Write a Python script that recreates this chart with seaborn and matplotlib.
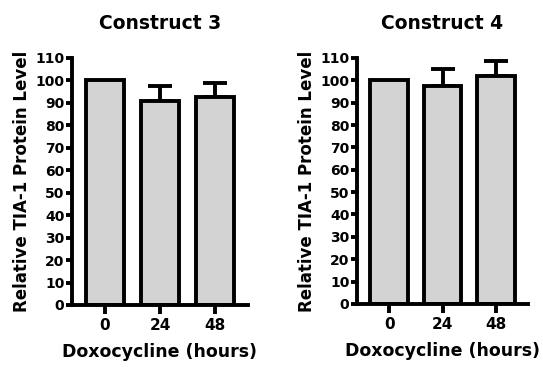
import matplotlib
matplotlib.use("Agg")
import matplotlib.pyplot as plt
import seaborn as sns
import pandas as pd
import numpy as np

sns.set_theme(style="ticks")
plt.rcParams['font.family'] = ['DejaVu Sans']
plt.rcParams['font.weight'] = 'bold'
plt.rcParams['text.color'] = 'black'
plt.rcParams['axes.labelcolor'] = 'black'
plt.rcParams['xtick.color'] = 'black'
plt.rcParams['ytick.color'] = 'black'

categories = ["0", "24", "48"]
construct3_values = [100, 91, 92.5]
construct3_errors = [0, 6.5, 6.5]
construct4_values = [100, 97.5, 102]
construct4_errors = [0, 7.5, 6.7]
titles = ["Construct 3", "Construct 4"]
yticks = list(range(0, 111, 10))

fig = plt.figure(figsize=(5.43, 3.67), dpi=100)
ax1 = fig.add_axes([0.1326, 0.169, 0.324, 0.673])
ax2 = fig.add_axes([0.6575, 0.172, 0.315, 0.670])

lw = 2.8
for ax, vals, errs, title in [(ax1, construct3_values, construct3_errors, titles[0]),
                               (ax2, construct4_values, construct4_errors, titles[1])]:
    df = pd.DataFrame({"time": categories, "value": vals})
    sns.barplot(data=df, x="time", y="value", ax=ax, color="#d3d3d3",
                edgecolor="black", linewidth=lw, width=0.7, saturation=1,
                errorbar=None, zorder=2)
    pos = np.arange(len(categories))
    for p, v, e in zip(pos, vals, errs):
        if e > 0:
            ax.errorbar([p], [v], yerr=[[0], [e]], fmt="none", ecolor="black",
                        elinewidth=lw, capsize=8.3, capthick=lw, zorder=1)
    ax.set_xlim(-0.6, 2.6)
    ax.set_ylim(0, 110)
    ax.set_yticks(yticks)
    ax.set_title(title, fontsize=13.5, fontweight="bold", pad=21, color="black")
    ax.set_xlabel("Doxocycline (hours)", fontsize=12.5, fontweight="bold", labelpad=7,
                  color="black")
    ax.set_ylabel("Relative TIA-1 Protein Level", fontsize=12, fontweight="bold",
                  labelpad=3, color="black")
    for s in ["top", "right"]:
        ax.spines[s].set_visible(False)
    for s in ["left", "bottom"]:
        ax.spines[s].set_linewidth(lw)
        ax.spines[s].set_color("black")
    ax.tick_params(axis="both", width=lw, colors="black", labelcolor="black")
    ax.tick_params(axis="x", length=6.5, pad=3, labelsize=11)
    ax.tick_params(axis="y", length=4, pad=1.5, labelsize=10)
    for lab in ax.get_xticklabels() + ax.get_yticklabels():
        lab.set_fontweight("bold")

fig.savefig("out.png", dpi=100)
